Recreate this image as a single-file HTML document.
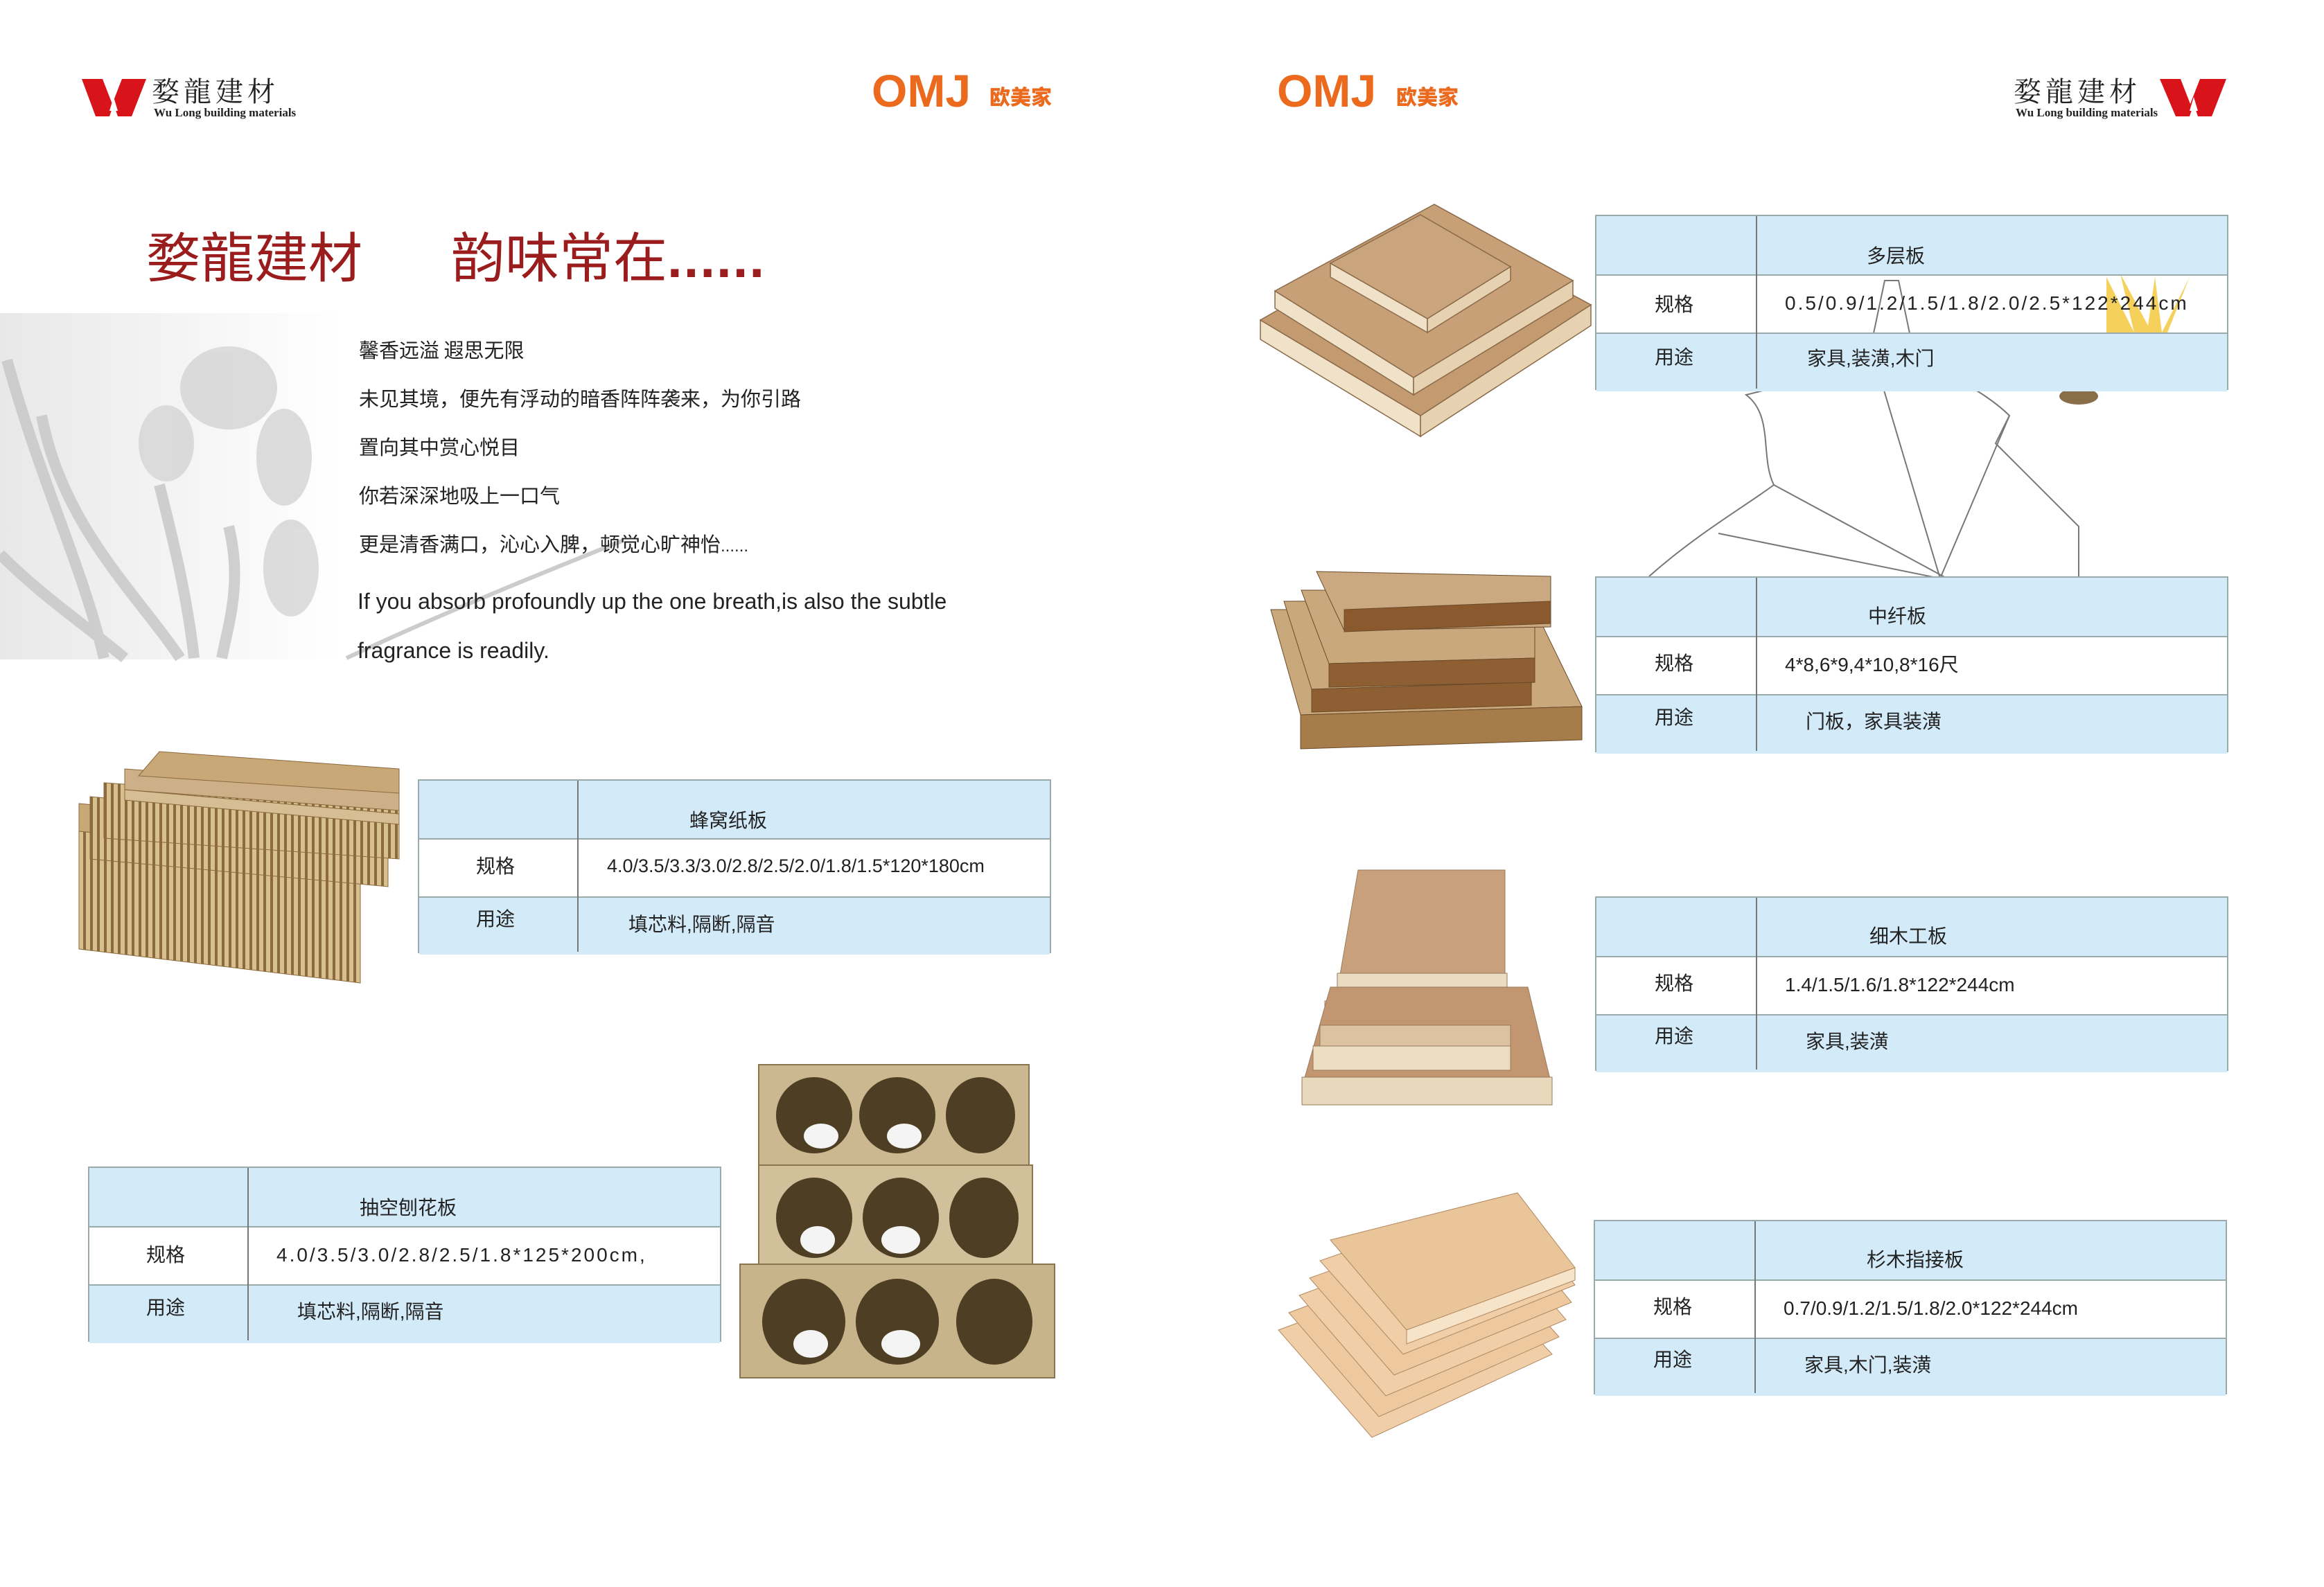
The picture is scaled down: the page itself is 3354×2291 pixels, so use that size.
<!DOCTYPE html>
<html><head><meta charset="utf-8">
<style>
body{margin:0;}
#p{position:relative;width:3354px;height:2291px;background:#fff;overflow:hidden;font-family:"Liberation Sans","Noto Sans CJK SC",sans-serif;color:#222;}
.a{position:absolute;white-space:nowrap;line-height:1;}
.omj{font-family:"Liberation Sans",sans-serif;font-weight:bold;color:#ec6a1e;font-size:66px;letter-spacing:0px;}
.omjc{font-family:"Noto Sans CJK SC",sans-serif;font-weight:900;color:#ec6a1e;font-size:30px;}
.lg{font-family:"Noto Serif CJK SC","Noto Sans CJK SC",serif;font-size:40px;color:#222;letter-spacing:6px;}
.lgs{font-family:"Liberation Serif",serif;font-weight:bold;font-size:17px;color:#222;}
.tt{font-family:"Noto Sans CJK SC",sans-serif;font-size:78px;color:#9b1c1c;}
.po{font-family:"Noto Sans CJK SC",sans-serif;font-size:29px;color:#222;}
.en{font-size:32px;color:#222;}
.tbl{position:absolute;border:2px solid #9aa;box-sizing:border-box;}
.tbl .r{position:absolute;left:0;right:0;box-sizing:border-box;}
.tbl .b{background:#d3eaf8;}
.tbl .l{border-top:2px solid #9aa;}
.tbl .v{position:absolute;top:0;bottom:0;border-left:2px solid #777;}
.tbl .t{position:absolute;font-family:"Liberation Sans","Noto Sans CJK SC",sans-serif;font-size:28px;white-space:nowrap;line-height:1;color:#222;}
</style></head><body><div id="p">
<svg class="a" style="left:0;top:0" width="3354" height="2291">
<defs>
<linearGradient id="fg" x1="0" y1="0" x2="1" y2="0"><stop offset="0" stop-color="#e8e8e8"/><stop offset="1" stop-color="#fff"/></linearGradient>
<pattern id="hc" width="10" height="10" patternUnits="userSpaceOnUse"><rect width="10" height="10" fill="#d8c08e"/><rect width="4" height="10" fill="#8a6a3e"/></pattern>
</defs>
<rect x="0" y="452" width="495" height="500" fill="url(#fg)"/>
<g fill="none" stroke="#c6c6c6" stroke-width="16" opacity="0.8">
<path d="M10 520 C60 700 120 820 150 950"/><path d="M60 600 C90 760 200 860 260 950"/><path d="M0 800 C60 860 120 900 180 950"/>
<path d="M230 700 C250 780 270 860 280 950"/><path d="M330 760 C350 840 330 900 320 950"/>
</g>
<g fill="#d4d4d4" opacity="0.8"><ellipse cx="330" cy="560" rx="70" ry="60"/><ellipse cx="410" cy="660" rx="40" ry="70"/><ellipse cx="240" cy="640" rx="40" ry="55"/><ellipse cx="420" cy="820" rx="40" ry="70"/></g>
<path d="M500 950 C650 880 800 820 900 780" stroke="#ccc" stroke-width="6" fill="none"/>
<g fill="none" stroke="#777" stroke-width="2">
<path d="M2380 832 C2450 770 2520 730 2560 700 C2540 660 2560 600 2520 570 L2560 560 C2600 520 2660 540 2700 500 L2720 405 L2740 405 L2760 500 C2800 540 2860 560 2900 600 L2880 640 C2920 680 2960 720 3000 760 L3000 835"/>
<path d="M2560 700 L2810 835"/><path d="M2700 500 L2800 835"/><path d="M2900 600 L2800 835"/><path d="M2480 770 L2800 835"/>
</g>
<g fill="#f2c431" opacity="0.8"><path d="M3040 400 L3080 480 L3060 395 L3100 470 L3110 400 L3120 480 L3160 400 L3120 500 L3040 510 Z"/></g>
<ellipse cx="3000" cy="572" rx="28" ry="12" fill="#6b4a1a" opacity="0.8"/>
<g stroke="#8a6a4a" stroke-width="1.5">
<polygon points="1819,462 2050,600 2050,630 1819,490" fill="#f0e2c8"/><polygon points="2050,600 2296,440 2296,470 2050,630" fill="#e6d2b0"/><polygon points="1819,462 2070,318 2296,440 2050,600" fill="#c49a70"/>
<polygon points="1840,420 2040,545 2040,570 1840,445" fill="#f0e2c8"/><polygon points="2040,545 2270,405 2270,430 2040,570" fill="#e6d2b0"/><polygon points="1840,420 2070,295 2270,405 2040,545" fill="#c8a078"/>
<polygon points="1920,380 2060,460 2060,480 1920,400" fill="#f0e2c8"/><polygon points="2060,460 2180,385 2180,405 2060,480" fill="#e6d2b0"/><polygon points="1920,380 2050,310 2180,385 2060,460" fill="#caa47c"/>
</g>
<g stroke="#6a4a2a" stroke-width="1">
<polygon points="1834,880 2215,880 2283,1020 1877,1032" fill="#c9a87c"/><polygon points="1877,1032 2283,1020 2283,1068 1877,1081" fill="#a67c4a"/>
<polygon points="1853,868 2210,866 2210,985 1893,995" fill="#c9a87c"/><polygon points="1893,995 2210,985 2210,1018 1893,1028" fill="#8e5f32"/>
<polygon points="1878,852 2215,852 2215,950 1918,958" fill="#caa87e"/><polygon points="1918,958 2215,950 2215,985 1918,992" fill="#8e5f32"/>
<polygon points="1900,825 2238,832 2238,905 1940,910" fill="#cba980"/><polygon points="1940,880 2238,868 2238,900 1940,912" fill="#8a5a2e"/>
</g>
<g stroke="#9a7a5a" stroke-width="1">
<polygon points="1960,1256 2172,1256 2172,1430 1930,1430" fill="#c8a07c"/>
<rect x="1930" y="1405" width="245" height="40" fill="#eadcc0"/>
<rect x="1912" y="1445" width="265" height="35" fill="#e8d6b8"/>
<polygon points="2005,1425 2205,1425 2240,1570 1879,1570 1920,1425" fill="#c29670"/>
<rect x="1905" y="1480" width="275" height="30" fill="#dcc2a0"/>
<rect x="1895" y="1510" width="285" height="35" fill="#ecdcc0"/>
<rect x="1879" y="1555" width="361" height="40" fill="#e8d8bc"/>
</g>
<g stroke="#b08860" stroke-width="1">
<polygon points="1845,1920 2115,1820 2240,1955 1980,2075" fill="#f0cfa8"/>
<polygon points="1860,1895 2130,1795 2250,1930 1990,2045" fill="#eec9a0"/>
<polygon points="1875,1870 2145,1770 2260,1905 2000,2015" fill="#f0cfa8"/>
<polygon points="1890,1845 2160,1748 2268,1880 2012,1985" fill="#eec9a0"/>
<polygon points="1905,1820 2175,1726 2273,1855 2025,1955" fill="#f0cfa8"/>
<polygon points="1920,1790 2190,1722 2273,1830 2030,1920" fill="#eac59a"/>
<polygon points="2030,1920 2273,1830 2273,1848 2030,1940" fill="#f7e4c8"/>
</g>
<g stroke="#8a6a3e" stroke-width="1">
<polygon points="114,1200 520,1240 520,1419 114,1370" fill="url(#hc)"/>
<polygon points="114,1160 540,1200 540,1240 114,1200" fill="#c9a878"/>
<polygon points="130,1150 560,1190 560,1280 130,1240" fill="url(#hc)"/>
<polygon points="150,1130 576,1160 576,1240 150,1210" fill="url(#hc)"/>
<polygon points="180,1110 576,1140 576,1170 180,1140" fill="#cdb088"/>
<polygon points="230,1085 576,1110 576,1145 200,1120" fill="#c9a878"/>
<polygon points="180,1140 576,1175 576,1190 180,1155" fill="#d7bd94"/>
</g>
<g stroke="#8a7550" stroke-width="2">
<rect x="1095" y="1537" width="390" height="145" fill="#cbb890"/>
<rect x="1095" y="1682" width="395" height="148" fill="#d2c09a"/>
<rect x="1068" y="1825" width="454" height="164" fill="#c8b48a"/>
</g>
<g fill="#4e3e24">
<ellipse cx="1175" cy="1610" rx="55" ry="55"/><ellipse cx="1295" cy="1610" rx="55" ry="55"/><ellipse cx="1415" cy="1610" rx="50" ry="55"/>
<ellipse cx="1175" cy="1758" rx="55" ry="58"/><ellipse cx="1300" cy="1758" rx="55" ry="58"/><ellipse cx="1420" cy="1758" rx="50" ry="58"/>
<ellipse cx="1160" cy="1908" rx="60" ry="62"/><ellipse cx="1295" cy="1908" rx="60" ry="62"/><ellipse cx="1435" cy="1908" rx="55" ry="62"/>
</g>
<g fill="#f4f4f4"><ellipse cx="1185" cy="1640" rx="25" ry="18"/><ellipse cx="1305" cy="1640" rx="25" ry="18"/><ellipse cx="1300" cy="1790" rx="28" ry="20"/><ellipse cx="1180" cy="1790" rx="25" ry="20"/><ellipse cx="1300" cy="1940" rx="28" ry="20"/><ellipse cx="1170" cy="1940" rx="25" ry="20"/></g>
<polygon points="118,114 148,114 162,150 176,114 196,114 211,114 190,168 170,168 164,150 158,168 138,168" fill="#d8141a"/>
<polygon points="158,160 164,140 170,160" fill="#fff"/>
<g transform="translate(-16,0)">
<polygon points="3133,114 3163,114 3177,150 3191,114 3211,114 3229,114 3208,168 3188,168 3182,150 3176,168 3156,168" fill="#d8141a"/>
<polygon points="3176,160 3182,140 3188,160" fill="#fff"/>
</g>
</svg>

<div class="a lg" style="left:219px;top:110px">婺龍建材</div>
<div class="a lgs" style="left:222px;top:154px">Wu Long building materials</div>
<div class="a omj" style="left:1258px;top:98px">OMJ</div>
<div class="a omjc" style="left:1428px;top:123px">欧美家</div>
<div class="a omj" style="left:1843px;top:98px">OMJ</div>
<div class="a omjc" style="left:2015px;top:123px">欧美家</div>
<div class="a lg" style="left:2906px;top:110px">婺龍建材</div>
<div class="a lgs" style="left:2909px;top:154px">Wu Long building materials</div>

<div class="a tt" style="left:211px;top:328px">婺龍建材</div>
<div class="a tt" style="left:651px;top:328px">韵味常在<span style="font-family:'Liberation Sans',sans-serif;font-weight:bold;letter-spacing:2px">......</span></div>

<div class="a po" style="left:518px;top:490px">馨香远溢 遐思无限</div>
<div class="a po" style="left:518px;top:560px">未见其境，便先有浮动的暗香阵阵袭来，为你引路</div>
<div class="a po" style="left:518px;top:630px">置向其中赏心悦目</div>
<div class="a po" style="left:518px;top:700px">你若深深地吸上一口气</div>
<div class="a po" style="left:518px;top:770px">更是清香满口，沁心入脾，顿觉心旷神怡<span style="font-family:'Liberation Sans',sans-serif;font-size:24px">......</span></div>
<div class="a en" style="left:516px;top:852px">If you absorb profoundly up the one breath,is also the subtle</div>
<div class="a en" style="left:516px;top:923px">fragrance is readily.</div>

<div class="tbl" style="left:603px;top:1125px;width:914px;height:251px">
<div class="r b" style="top:0;height:83px"></div><div class="r l" style="top:83px;height:84px"></div><div class="r b l" style="top:167px;height:84px"></div>
<div class="v" style="left:228px"></div>
<div class="t" style="left:390px;top:44px">蜂窝纸板</div>
<div class="t" style="left:82px;top:110px">规格</div><div class="t" style="left:271px;top:110px;font-size:27px">4.0/3.5/3.3/3.0/2.8/2.5/2.0/1.8/1.5*120*180cm</div>
<div class="t" style="left:82px;top:186px">用途</div><div class="t" style="left:302px;top:194px">填芯料,隔断,隔音</div>
</div>

<div class="tbl" style="left:127px;top:1684px;width:914px;height:253px">
<div class="r b" style="top:0;height:84px"></div><div class="r l" style="top:84px;height:84px"></div><div class="r b l" style="top:168px;height:85px"></div>
<div class="v" style="left:228px"></div>
<div class="t" style="left:390px;top:44px">抽空刨花板</div>
<div class="t" style="left:82px;top:112px">规格</div><div class="t" style="left:270px;top:112px;letter-spacing:3px">4.0/3.5/3.0/2.8/2.5/1.8*125*200cm,</div>
<div class="t" style="left:82px;top:188px">用途</div><div class="t" style="left:300px;top:194px">填芯料,隔断,隔音</div>
</div>

<div class="tbl" style="left:2302px;top:310px;width:914px;height:253px">
<div class="r b" style="top:0;height:84px"></div><div class="r l" style="top:84px;height:84px"></div><div class="r b l" style="top:168px;height:85px"></div>
<div class="v" style="left:230px"></div>
<div class="t" style="left:390px;top:44px">多层板</div>
<div class="t" style="left:84px;top:114px">规格</div><div class="t" style="left:272px;top:112px;letter-spacing:3px">0.5/0.9/1.2/1.5/1.8/2.0/2.5*122*244cm</div>
<div class="t" style="left:84px;top:190px">用途</div><div class="t" style="left:304px;top:192px">家具,装潢,木门</div>
</div>

<div class="tbl" style="left:2302px;top:832px;width:914px;height:254px">
<div class="r b" style="top:0;height:84px"></div><div class="r l" style="top:84px;height:84px"></div><div class="r b l" style="top:168px;height:86px"></div>
<div class="v" style="left:230px"></div>
<div class="t" style="left:392px;top:42px">中纤板</div>
<div class="t" style="left:84px;top:110px">规格</div><div class="t" style="left:272px;top:112px">4*8,6*9,4*10,8*16尺</div>
<div class="t" style="left:84px;top:188px">用途</div><div class="t" style="left:302px;top:194px">门板，家具装潢</div>
</div>

<div class="tbl" style="left:2302px;top:1294px;width:914px;height:252px">
<div class="r b" style="top:0;height:84px"></div><div class="r l" style="top:84px;height:84px"></div><div class="r b l" style="top:168px;height:84px"></div>
<div class="v" style="left:230px"></div>
<div class="t" style="left:394px;top:42px">细木工板</div>
<div class="t" style="left:84px;top:110px">规格</div><div class="t" style="left:272px;top:112px">1.4/1.5/1.6/1.8*122*244cm</div>
<div class="t" style="left:84px;top:186px">用途</div><div class="t" style="left:302px;top:194px">家具,装潢</div>
</div>

<div class="tbl" style="left:2300px;top:1761px;width:914px;height:252px">
<div class="r b" style="top:0;height:84px"></div><div class="r l" style="top:84px;height:84px"></div><div class="r b l" style="top:168px;height:84px"></div>
<div class="v" style="left:230px"></div>
<div class="t" style="left:392px;top:42px">杉木指接板</div>
<div class="t" style="left:84px;top:110px">规格</div><div class="t" style="left:272px;top:112px">0.7/0.9/1.2/1.5/1.8/2.0*122*244cm</div>
<div class="t" style="left:84px;top:186px">用途</div><div class="t" style="left:302px;top:194px">家具,木门,装潢</div>
</div>
</div></body></html>
